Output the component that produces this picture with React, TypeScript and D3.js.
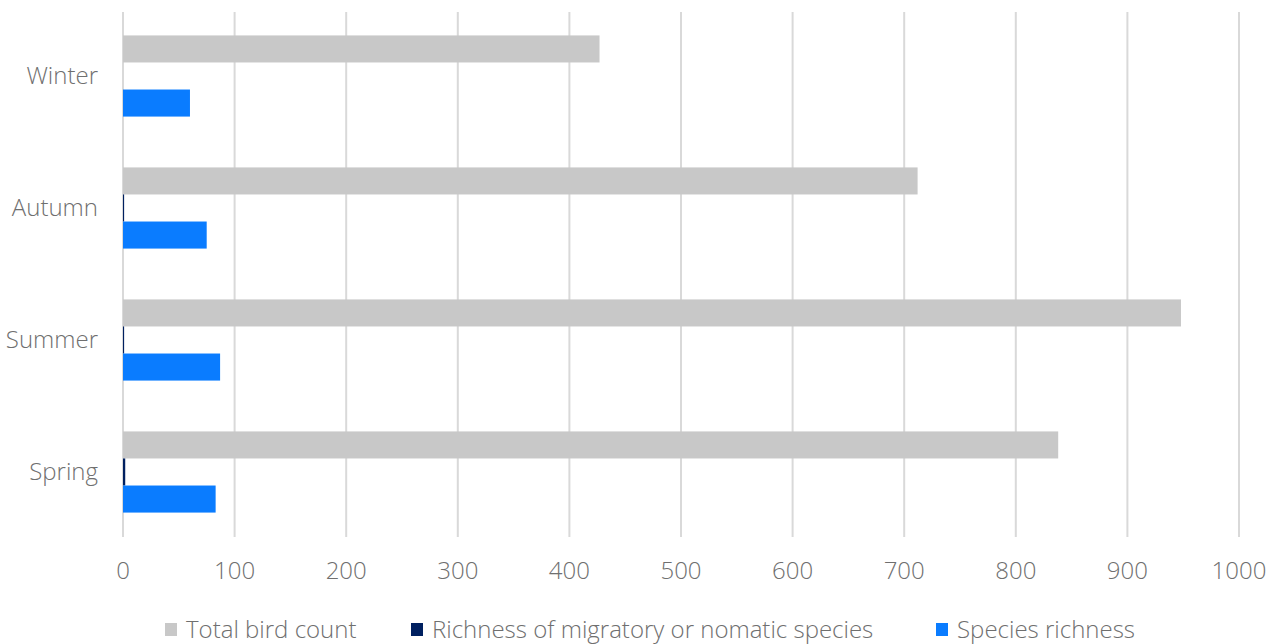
import React from "react";
import * as d3 from "d3";

const seasons = ["Winter", "Autumn", "Summer", "Spring"];
const seriesNames = ["Total bird count", "Richness of migratory or nomatic species", "Species richness"];
const totalBirdCount = [427, 712, 948, 838];
const migratoryRichness = [0, 1, 1, 2];
const speciesRichness = [60, 75, 87, 83];
const xTicks = [0, 100, 200, 300, 400, 500, 600, 700, 800, 900, 1000];
const colors = ["#c8c8c8", "#002060", "#0a7cff"];

export default function App() {
  const W = 1280, H = 644;
  const x = d3.scaleLinear().domain([0, 1000]).range([123, 1239]);
  const y = d3.scaleBand().domain(seasons).range([10, 538]);
  const inner = d3.scaleBand().domain(seriesNames).range([0, y.bandwidth()]).paddingInner(0).paddingOuter(0.94);
  const series = [totalBirdCount, migratoryRichness, speciesRichness];
  const font = "'Open Sans', sans-serif";
  const textColor = "#6f6f6f";
  const fs = 24;
  const legendX = [165, 411, 936];
  return (
    <svg width={W} height={H} style={{ position: "absolute", left: 0, top: 0, background: "#fff" }}>
      {xTicks.map((t) => (
        <line key={t} x1={x(t)} x2={x(t)} y1={12} y2={537} stroke="#d9d9d9" strokeWidth={2} />
      ))}
      {seasons.map((s, i) => (
        <g key={s}>
          {series.map((vals, k) => (
            <rect
              key={k}
              x={x(0)}
              y={(y(s) as number) + (inner(seriesNames[k]) as number)}
              width={x(vals[i]) - x(0)}
              height={inner.bandwidth()}
              fill={colors[k]}
            />
          ))}
          <text x={98} y={(y(s) as number) + y.bandwidth() / 2} dy="0.35em" textAnchor="end"
            fontFamily={font} fontSize={fs} fontWeight={300} fill={textColor}>{s}</text>
        </g>
      ))}
      {xTicks.map((t) => (
        <text key={t} x={x(t)} y={579} textAnchor="middle" fontFamily={font} fontSize={fs} fontWeight={300} fill={textColor}>{t}</text>
      ))}
      {seriesNames.map((n, k) => (
        <g key={n}>
          <rect x={legendX[k]} y={623} width={12} height={13} fill={colors[k]} />
          <text x={legendX[k] + 21} y={638} fontFamily={font} fontSize={fs} fontWeight={300} fill={textColor}>{n}</text>
        </g>
      ))}
    </svg>
  );
}
